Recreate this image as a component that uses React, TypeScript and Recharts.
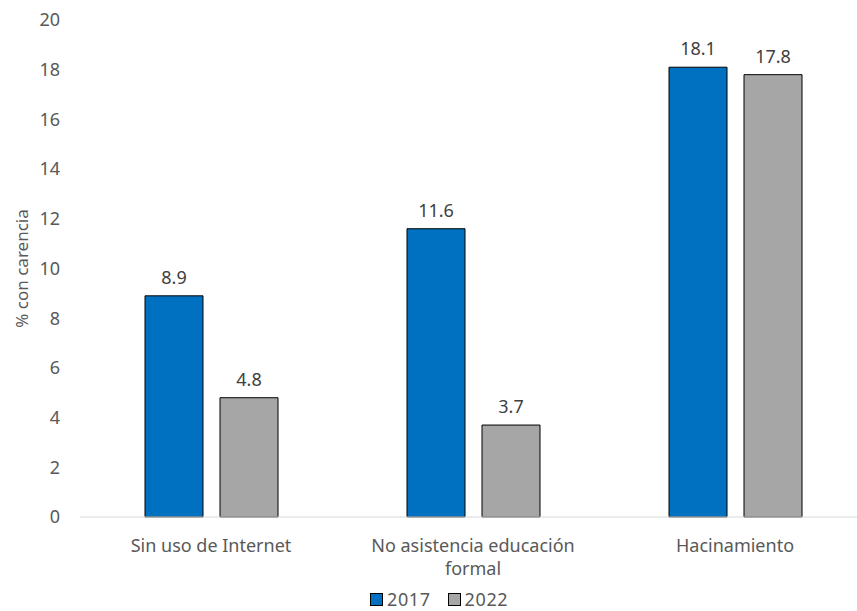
import React from 'react';
import { BarChart, Bar, XAxis, YAxis, LabelList, Legend, Text } from 'recharts';

const categories = ['Sin uso de Internet', 'No asistencia educación formal', 'Hacinamiento'];
const values2017 = [8.9, 11.6, 18.1];
const values2022 = [4.8, 3.7, 17.8];
const yTicks = [0, 2, 4, 6, 8, 10, 12, 14, 16, 18, 20];
const seriesNames = ['2017', '2022'];
const seriesColors = ['#0070C0', '#A6A6A6'];

const data = categories.map((c, i) => ({ name: c, v2017: values2017[i], v2022: values2022[i] }));

const FONT = '"Noto Sans", sans-serif';
const TXT = '#595959';

const CatTick = (props: any) => {
  const { x, y, payload } = props;
  return (
    <Text
      x={x}
      y={y}
      width={220}
      textAnchor="middle"
      verticalAnchor="start"
      lineHeight={23}
      style={{ fontSize: 18, fontFamily: FONT }}
      fill={TXT}
    >
      {payload.value}
    </Text>
  );
};

const LegendContent = () => (
  <div style={{ display: 'flex', alignItems: 'center', fontFamily: FONT, fontSize: 18, lineHeight: '20px', color: TXT, letterSpacing: 0.6 }}>
    {seriesNames.map((n, i) => (
      <div key={n} style={{ display: 'flex', alignItems: 'center', marginRight: i === 0 ? 17 : 0 }}>
        <div style={{ width: 11, height: 11, background: seriesColors[i], border: '1px solid #000', marginRight: 4 }} />
        <span>{n}</span>
      </div>
    ))}
  </div>
);

export default function App() {
  return (
    <div style={{ position: 'absolute', left: 0, top: 0, width: 857, height: 611, overflow: 'hidden', background: '#fff' }}>
      <BarChart
        width={870}
        height={611}
        data={data}
        margin={{ top: 20, right: 4, bottom: 14, left: 0 }}
        barGap={17}
        barSize={58}
      >
        <XAxis
          dataKey="name"
          axisLine={{ stroke: '#D9D9D9' }}
          tickLine={false}
          tick={<CatTick />}
          tickMargin={16}
          interval={0}
          height={60}
        />
        <YAxis
          domain={[0, 20]}
          ticks={yTicks}
          axisLine={false}
          tickLine={false}
          tickSize={0}
          tickMargin={20}
          width={80}
          tick={{ fontSize: 18, fontFamily: FONT, fill: TXT }}
          label={{ value: '% con carencia', angle: -90, position: 'insideLeft', offset: 22, style: { fontSize: 17, fontFamily: FONT, fill: TXT, textAnchor: 'middle' } }}
        />
        <Legend
          content={<LegendContent />}
          wrapperStyle={{ left: 370, top: 589, width: 200, height: 20 }}
        />
        <Bar dataKey="v2017" name={seriesNames[0]} fill={seriesColors[0]} stroke="#000" strokeWidth={1} isAnimationActive={false}>
          <LabelList dataKey="v2017" position="top" offset={12} style={{ fontSize: 18, fontFamily: FONT, fill: '#404040' }} />
        </Bar>
        <Bar dataKey="v2022" name={seriesNames[1]} fill={seriesColors[1]} stroke="#000" strokeWidth={1} isAnimationActive={false}>
          <LabelList dataKey="v2022" position="top" offset={12} style={{ fontSize: 18, fontFamily: FONT, fill: '#404040' }} />
        </Bar>
      </BarChart>
    </div>
  );
}
